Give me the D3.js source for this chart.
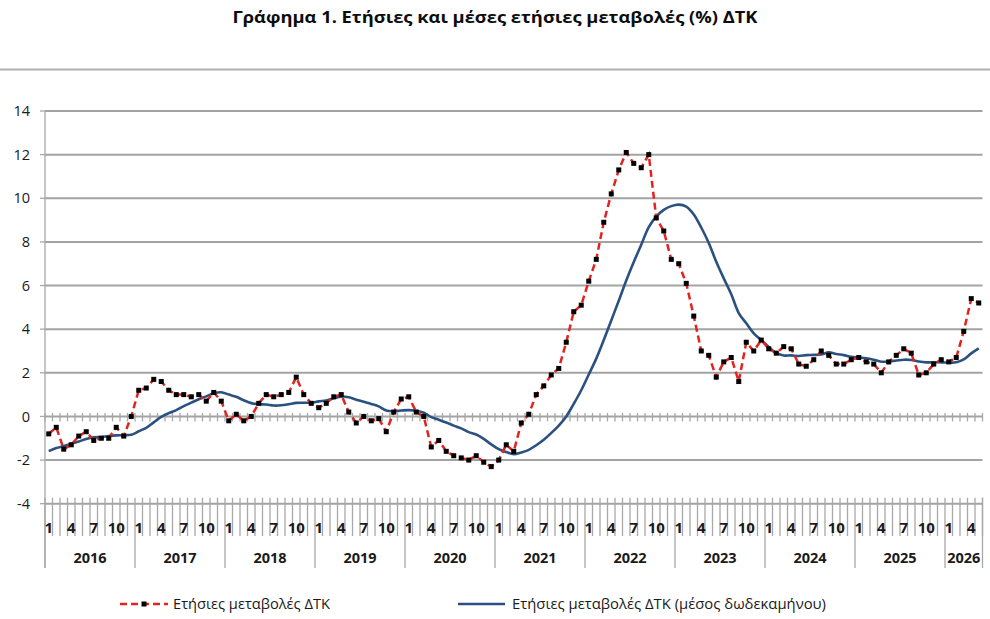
<!DOCTYPE html>
<meta charset="utf-8">
<title>Γράφημα 1 - ΔΤΚ</title>

<style>
body {
  position: absolute;
  margin: 0px;
  background: #ffffff;
}
text {
  font-family: "Open Sans", "DejaVu Sans", sans-serif;
  fill: #1a1a1a;
}
path.annual {
  fill: none;
  stroke: #e3231f;
  stroke-width: 2.5;
  stroke-dasharray: 7,4;
}
path.average {
  fill: none;
  stroke: #2b5180;
  stroke-width: 2.6;
}
rect.marker {
  fill: #000000;
}
line.grid {
  stroke: #a3a3a3;
  stroke-width: 2;
}
line.tick {
  stroke: #a8a8a8;
  stroke-width: 1.3;
}
</style>

<script src="https://d3js.org/d3.v7.min.js"></script>

<body>
<script>

// Set SVG size
var width = 990, height = 619;

// Years on the category axis and how many months each one has
var years = [2016, 2017, 2018, 2019, 2020, 2021, 2022, 2023, 2024, 2025, 2026];
var monthsInYear = [12, 12, 12, 12, 12, 12, 12, 12, 12, 12, 5];
// Month labels that are shown
var shownMonths = [1, 4, 7, 10];
// Y axis ticks
var yTicks = [-4, -2, 0, 2, 4, 6, 8, 10, 12, 14];

// Ετήσιες μεταβολές ΔΤΚ (%), Jan 2016 - May 2026
var annualChange = [
  -0.8, -0.5, -1.5, -1.3, -0.9, -0.7, -1.1, -1.0, -1.0, -0.5, -0.9, 0.0,
  1.2, 1.3, 1.7, 1.6, 1.2, 1.0, 1.0, 0.9, 1.0, 0.7, 1.1, 0.7,
  -0.2, 0.1, -0.2, 0.0, 0.6, 1.0, 0.9, 1.0, 1.1, 1.8, 1.0, 0.6,
  0.4, 0.6, 0.9, 1.0, 0.2, -0.3, 0.0, -0.2, -0.1, -0.7, 0.2, 0.8,
  0.9, 0.2, 0.0, -1.4, -1.1, -1.6, -1.8, -1.9, -2.0, -1.8, -2.1, -2.3,
  -2.0, -1.3, -1.6, -0.3, 0.1, 1.0, 1.4, 1.9, 2.2, 3.4, 4.8, 5.1,
  6.2, 7.2, 8.9, 10.2, 11.3, 12.1, 11.6, 11.4, 12.0, 9.1, 8.5, 7.2,
  7.0, 6.1, 4.6, 3.0, 2.8, 1.8, 2.5, 2.7, 1.6, 3.4, 3.0, 3.5,
  3.1, 2.9, 3.2, 3.1, 2.4, 2.3, 2.6, 3.0, 2.8, 2.4, 2.4, 2.6,
  2.7, 2.5, 2.4, 2.0, 2.5, 2.8, 3.1, 2.9, 1.9, 2.0, 2.4, 2.6,
  2.5, 2.7, 3.9, 5.4, 5.2
];

// Ετήσιες μεταβολές ΔΤΚ (μέσος δωδεκαμήνου)
var averageChange = [
  -1.59, -1.45, -1.36, -1.25, -1.15, -1.03, -0.96, -0.94, -0.90, -0.87, -0.86, -0.84,
  -0.68, -0.52, -0.27, -0.02, 0.15, 0.29, 0.47, 0.63, 0.79, 0.92, 1.06, 1.11,
  1.00, 0.90, 0.74, 0.61, 0.56, 0.55, 0.50, 0.51, 0.56, 0.62, 0.63, 0.63,
  0.69, 0.73, 0.83, 0.91, 0.88, 0.77, 0.67, 0.57, 0.46, 0.27, 0.24, 0.27,
  0.29, 0.26, 0.17, -0.03, -0.15, -0.28, -0.42, -0.55, -0.72, -0.83, -1.03, -1.28,
  -1.50, -1.63, -1.73, -1.65, -1.53, -1.32, -1.07, -0.76, -0.42, 0.00, 0.58, 1.20,
  1.92, 2.65, 3.50, 4.40, 5.30, 6.23, 7.08, 7.87, 8.68, 9.16, 9.47, 9.64,
  9.71, 9.62, 9.26, 8.66, 7.95, 7.09, 6.33, 5.60, 4.74, 4.27, 3.81, 3.50,
  3.18, 2.91, 2.79, 2.80, 2.77, 2.81, 2.82, 2.84, 2.94, 2.86, 2.81, 2.73,
  2.70, 2.67, 2.60, 2.51, 2.52, 2.56, 2.60, 2.59, 2.52, 2.48, 2.48, 2.48,
  2.47, 2.48, 2.61, 2.89, 3.12
];

// Build the monthly categories
var months = [];
years.forEach(function(yr, k) {
  for (var m = 1; m <= monthsInYear[k]; m++) {
    months.push({ year: yr, month: m, index: months.length });
  }
});

// Create SVG element
var svg = d3.select("body").append("svg")
    .attr("width", width)
    .attr("height", height);

svg.append("rect")
  .attr("width", width)
  .attr("height", height)
  .attr("fill", "#ffffff");

// Scales
var x = d3.scaleBand()
    .domain(months.map(function(d) { return d.index; }))
    .range([45, 982.5])
    .padding(0);
var y = d3.scaleLinear()
    .domain([-4, 14])
    .range([503.7, 111]);

var bw = x.bandwidth();
var xEnd = x.range()[1];
function cx(i) { return x(i) + bw / 2; }

// Title
svg.append("text")
  .attr("x", width / 2)
  .attr("y", 23)
  .attr("text-anchor", "middle")
  .attr("textLength", 525)
  .attr("lengthAdjust", "spacingAndGlyphs")
  .style("font-size", "16.5px")
  .style("font-weight", "bold")
  .style("fill", "#0d0d0d")
  .text("Γράφημα 1. Ετήσιες και μέσες ετήσιες μεταβολές (%) ΔΤΚ");

// Separator line under the title
svg.append("line")
  .attr("x1", 0).attr("x2", width)
  .attr("y1", 69.5).attr("y2", 69.5)
  .attr("stroke", "#b0b0b0")
  .attr("stroke-width", 2);

// Gridlines
svg.selectAll("line.grid")
    .data(yTicks)
  .enter().append("line")
    .attr("class", "grid")
    .attr("x1", 45).attr("x2", xEnd)
    .attr("y1", function(d) { return y(d); })
    .attr("y2", function(d) { return y(d); });

// Y axis line and little ticks
svg.append("line")
  .attr("class", "tick")
  .attr("x1", 45).attr("x2", 45)
  .attr("y1", y(14)).attr("y2", 568);
svg.append("line")
  .attr("class", "tick")
  .attr("x1", xEnd).attr("x2", xEnd)
  .attr("y1", y(-4) - 6).attr("y2", 568);
svg.selectAll("line.ytick")
    .data(yTicks)
  .enter().append("line")
    .attr("class", "tick")
    .attr("x1", 40).attr("x2", 45)
    .attr("y1", function(d) { return y(d); })
    .attr("y2", function(d) { return y(d); });

svg.selectAll("text.ylabel")
    .data(yTicks)
  .enter().append("text")
    .attr("class", "ylabel")
    .attr("x", 30)
    .attr("y", function(d) { return y(d); })
    .attr("dy", "0.35em")
    .attr("text-anchor", "end")
    .style("font-size", "14.5px")
    .text(function(d) { return d; });

// Month boundaries
var bounds = months.map(function(d) { return x(d.index); }).concat([xEnd]);

// Ticks crossing the zero line
svg.selectAll("line.zerotick")
    .data(bounds)
  .enter().append("line")
    .attr("class", "tick")
    .attr("x1", function(d) { return d; })
    .attr("x2", function(d) { return d; })
    .attr("y1", y(0) - 3.5)
    .attr("y2", y(0) + 5);

// Ticks of the category axis at the bottom
svg.selectAll("line.cattick")
    .data(bounds)
  .enter().append("line")
    .attr("class", "tick")
    .attr("x1", function(d) { return d; })
    .attr("x2", function(d) { return d; })
    .attr("y1", y(-4) - 6)
    .attr("y2", 536);

// Year separators
var yearStarts = months.filter(function(d) { return d.month == 1; });
svg.selectAll("line.yeartick")
    .data(yearStarts)
  .enter().append("line")
    .attr("class", "tick")
    .attr("x1", function(d) { return x(d.index); })
    .attr("x2", function(d) { return x(d.index); })
    .attr("y1", 536)
    .attr("y2", 568);

// Month labels
svg.selectAll("text.month")
    .data(months.filter(function(d) { return shownMonths.indexOf(d.month) >= 0; }))
  .enter().append("text")
    .attr("class", "month")
    .attr("x", function(d) { return cx(d.index); })
    .attr("y", 533)
    .attr("text-anchor", "middle")
    .style("font-size", "15px")
    .style("font-weight", "bold")
    .text(function(d) { return d.month; });

// Year labels
svg.selectAll("text.year")
    .data(years)
  .enter().append("text")
    .attr("class", "year")
    .attr("x", function(d, k) {
      var first = yearStarts[k].index;
      var last = first + monthsInYear[k] - 1;
      return (x(first) + x(last) + bw) / 2;
    })
    .attr("y", 563)
    .attr("text-anchor", "middle")
    .style("font-size", "14.5px")
    .style("font-weight", "bold")
    .text(function(d) { return d; });

// 12-month average line (smoothed)
var avgLine = d3.line()
    .x(function(d, i) { return cx(i); })
    .y(function(d) { return y(d); })
    .curve(d3.curveCatmullRom.alpha(0.5));

svg.append("path")
  .datum(averageChange)
  .attr("class", "average")
  .attr("d", avgLine);

// Annual change line
var annLine = d3.line()
    .x(function(d, i) { return cx(i); })
    .y(function(d) { return y(d); });

svg.append("path")
  .datum(annualChange)
  .attr("class", "annual")
  .attr("d", annLine);

svg.selectAll("rect.marker")
    .data(annualChange)
  .enter().append("rect")
    .attr("class", "marker")
    .attr("x", function(d, i) { return cx(i) - 2.5; })
    .attr("y", function(d) { return y(d) - 2.5; })
    .attr("width", 5)
    .attr("height", 5);

// Legend
var legY = 604;
svg.append("line")
  .attr("x1", 120).attr("x2", 168)
  .attr("y1", legY).attr("y2", legY)
  .attr("stroke", "#e3231f")
  .attr("stroke-width", 2.5)
  .attr("stroke-dasharray", "7,4");
svg.append("rect")
  .attr("class", "marker")
  .attr("x", 141.5).attr("y", legY - 2.5)
  .attr("width", 5).attr("height", 5);
svg.append("text")
  .attr("x", 173)
  .attr("y", legY)
  .attr("dy", "0.35em")
  .attr("textLength", 157)
  .attr("lengthAdjust", "spacingAndGlyphs")
  .style("font-size", "14.5px")
  .text("Ετήσιες μεταβολές ΔΤΚ");

svg.append("line")
  .attr("x1", 458).attr("x2", 505)
  .attr("y1", legY).attr("y2", legY)
  .attr("stroke", "#2b5180")
  .attr("stroke-width", 2.6);
svg.append("text")
  .attr("x", 512)
  .attr("y", legY)
  .attr("dy", "0.35em")
  .attr("textLength", 314)
  .attr("lengthAdjust", "spacingAndGlyphs")
  .style("font-size", "14.5px")
  .text("Ετήσιες μεταβολές ΔΤΚ (μέσος δωδεκαμήνου)");

</script>
